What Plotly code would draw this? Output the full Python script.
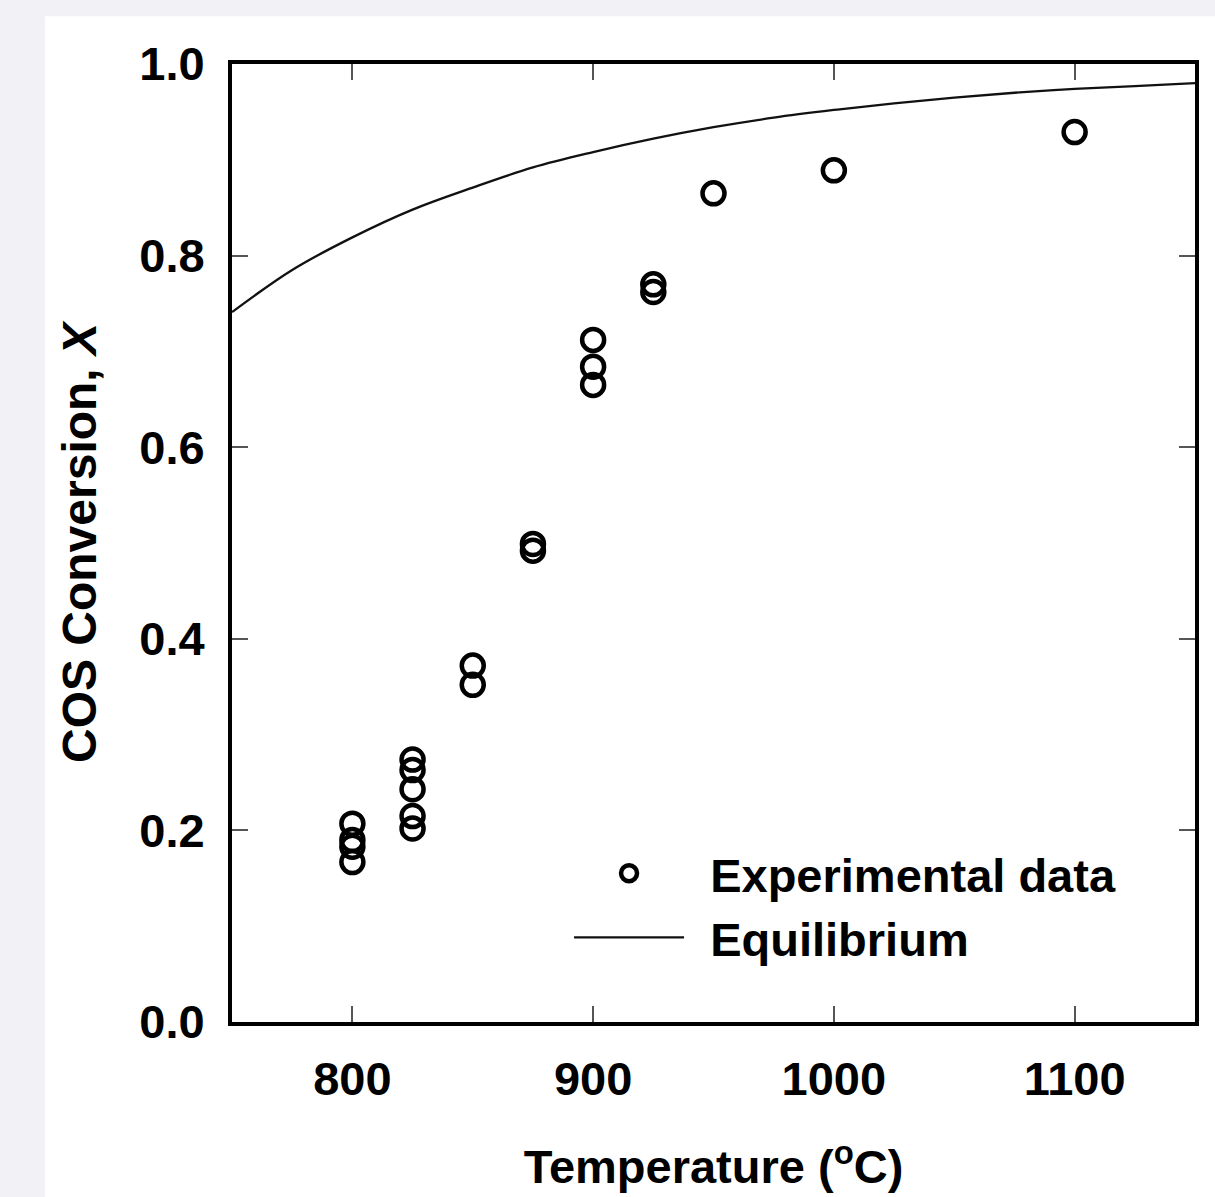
import plotly.graph_objects as go

# Experimental data (Temperature °C, COS conversion X)
exp_temp = [800, 800, 800, 800, 825, 825, 825, 825, 825, 850, 850, 875, 875,
            900, 900, 900, 925, 925, 950, 1000, 1100]
exp_conv = [0.207, 0.190, 0.183, 0.167, 0.274, 0.263, 0.243, 0.215, 0.202, 0.372, 0.352, 0.499, 0.492,
            0.712, 0.684, 0.665, 0.770, 0.762, 0.865, 0.889, 0.929]

# Equilibrium curve
eq_temp = [750, 775, 800, 825, 850, 875, 900, 925, 950, 975, 1000, 1025, 1050, 1075, 1100, 1125, 1150]
eq_conv = [0.741, 0.785, 0.819, 0.848, 0.871, 0.892, 0.908, 0.922, 0.934, 0.944, 0.952, 0.959,
           0.965, 0.970, 0.974, 0.977, 0.980]

x_ticks = [800, 900, 1000, 1100]
y_ticks = [0.0, 0.2, 0.4, 0.6, 0.8, 1.0]

FONT = "Liberation Sans"
GAP = '<span style="font-size:38px">&nbsp;&nbsp;</span>'

fig = go.Figure()
fig.add_trace(go.Scatter(
    x=exp_temp, y=exp_conv, mode="markers", name=GAP + "Experimental data",
    marker=dict(symbol="circle-open", size=22, color="black", line=dict(width=4.5, color="black")),
))
fig.add_trace(go.Scatter(
    x=eq_temp, y=eq_conv, mode="lines", name=GAP + "Equilibrium",
    line=dict(color="#111111", width=2.3, shape="spline"),
))

axis_common = dict(
    showline=True, linecolor="black", linewidth=4, mirror="ticks",
    ticks="inside", ticklen=16, tickwidth=1.5, tickcolor="#555555",
    showgrid=False, zeroline=False,
    tickfont=dict(family=FONT, size=47, color="black", weight="bold"),
)

fig.update_layout(
    width=1215, height=1197,
    margin=dict(l=232, r=20, t=64, b=170),
    paper_bgcolor="#f1f1f6",
    plot_bgcolor="white",
    xaxis=dict(range=[750, 1150], tickvals=x_ticks, ticktext=[str(v) for v in x_ticks],
               title=dict(text="Temperature (<sup>o</sup>C)", standoff=47,
                          font=dict(family=FONT, size=47, color="black", weight="bold")),
               ticklabelstandoff=13,
               **axis_common),
    yaxis=dict(range=[0, 1], tickvals=y_ticks, ticktext=[f"{v:.1f}" for v in y_ticks],
               title=dict(text="COS Conversion, <i>X</i>", standoff=28,
                          font=dict(family=FONT, size=48, color="black", weight="bold")),
               ticklabelstandoff=14,
               **axis_common),
    legend=dict(x=0.35, y=0.194, xanchor="left", yanchor="top", bgcolor="rgba(0,0,0,0)",
                itemwidth=110, tracegroupgap=0, itemsizing="trace",
                font=dict(family=FONT, size=47, color="black", weight="bold")),
    showlegend=True,
    shapes=[dict(type="rect", xref="paper", yref="paper", layer="below",
                 x0=(45 - 232) / 963, x1=(1215 - 232) / 963 + 0.01,
                 y0=-(1197 - 1027) / 964 - 0.01, y1=1 + (63 - 15) / 964,
                 fillcolor="white", line=dict(width=0))],
)

fig.write_html("out.html")
